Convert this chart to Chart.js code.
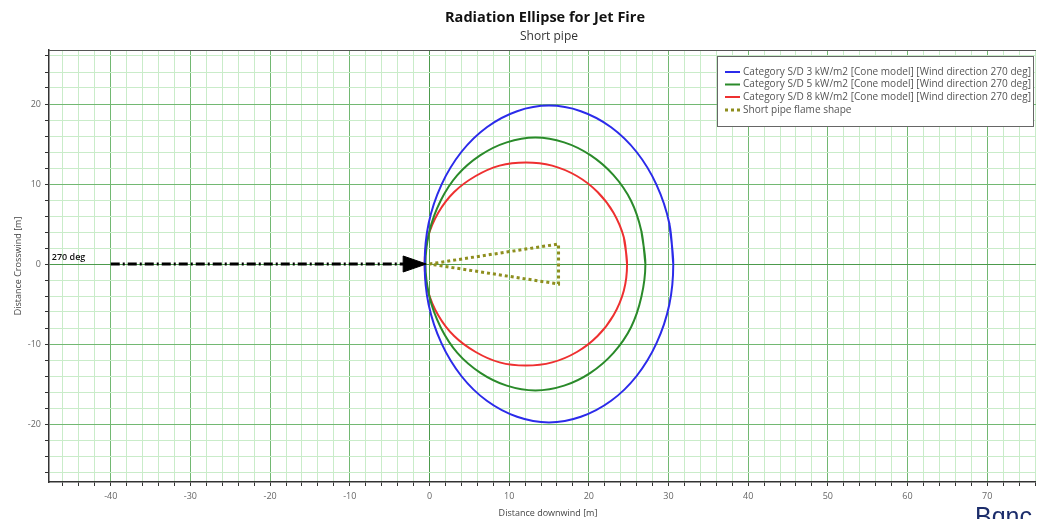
<!DOCTYPE html>
<html>
<head>
<meta charset="utf-8">
<script src="https://cdn.jsdelivr.net/npm/chart.js@4/dist/chart.umd.min.js"></script>
<style>
html,body{margin:0;padding:0;background:#fff;}
#wrap{width:1040px;height:519px;position:relative;}
</style>
</head>
<body>
<div id="wrap"><canvas id="c" width="1040" height="519"></canvas></div>
<script>
// ---- Data ----
const titleText = 'Radiation Ellipse for Jet Fire';
const subtitleText = 'Short pipe';
const xAxisTitle = 'Distance downwind [m]';
const yAxisTitle = 'Distance Crosswind [m]';

const seriesNames = [
  'Category S/D 3 kW/m2 [Cone model] [Wind direction 270 deg]',
  'Category S/D 5 kW/m2 [Cone model] [Wind direction 270 deg]',
  'Category S/D 8 kW/m2 [Cone model] [Wind direction 270 deg]',
  'Short pipe flame shape'
];

// 3 kW/m2 contour (blue)
const blueX = [30.6, 30.1, 28.5, 26.0, 22.8, 19.0, 15.0, 11.0, 7.2, 4.0, 1.5, -0.1, -0.6, -0.1, 1.5, 4.0, 7.2, 11.0, 15.0, 19.0, 22.8, 26.0, 28.5, 30.1, 30.6, 30.1];
const blueY = [0, 5.1, 9.9, 14.0, 17.1, 19.1, 19.8, 19.1, 17.1, 14.0, 9.9, 5.1, 0, -5.1, -9.9, -14.0, -17.1, -19.1, -19.8, -19.1, -17.1, -14.0, -9.9, -5.1, 0, 5.1];
// 5 kW/m2 contour (green)
const greenX = [27.1, 26.6, 25.3, 23.1, 20.2, 16.9, 13.3, 9.7, 6.4, 3.5, 1.4, 0.0, -0.5, 0.0, 1.4, 3.5, 6.4, 9.7, 13.3, 16.9, 20.2, 23.1, 25.3, 26.6, 27.1, 26.6];
const greenY = [0, 4.1, 7.9, 11.1, 13.6, 15.2, 15.8, 15.2, 13.6, 11.1, 7.9, 4.1, 0, -4.1, -7.9, -11.1, -13.6, -15.2, -15.8, -15.2, -13.6, -11.1, -7.9, -4.1, 0, 4.1];
// 8 kW/m2 contour (red)
const redX = [24.8, 24.4, 23.1, 21.1, 18.5, 15.4, 12.1, 8.8, 5.8, 3.1, 1.1, -0.2, -0.6, -0.2, 1.1, 3.1, 5.8, 8.8, 12.1, 15.4, 18.5, 21.1, 23.1, 24.4, 24.8, 24.4];
const redY = [0, 3.3, 6.4, 9.0, 11.0, 12.3, 12.7, 12.3, 11.0, 9.0, 6.4, 3.3, 0, -3.3, -6.4, -9.0, -11.0, -12.3, -12.7, -12.3, -11.0, -9.0, -6.4, -3.3, 0, 3.3];
// Flame shape (olive dotted)
const flameX = [0, 16.2, 16.2, 0];
const flameY = [0, 2.5, -2.5, 0];
// Wind direction arrow
const windX = [-40, -3.0];
const windY = [0, 0];
const arrowHeadX = [-3.3, -0.4, -3.3, -3.3];
const arrowHeadY = [1.0, 0, -1.0, 1.0];
const windLabel = ['270 deg'];
const windLabelX = [-47.4];
const windLabelY = [0.8];

// axes
const xMin = -47.75, xMax = 76.125;
const yMin = -27.25, yMax = 26.75;
const xTickValues = [];
for (let v = -46; v <= 76; v += 2) xTickValues.push(v);
const yTickValues = [];
for (let v = -26; v <= 26; v += 2) yTickValues.push(v);

const watermark = 'Bqnc';

// ---- build ----
const pts = (xs, ys) => xs.map((x, i) => ({x: x, y: ys[i]}));
const FONT = "'Open Sans', 'Noto Sans', sans-serif";

const datasets = [
  {label: 'wind', data: pts(windX, windY), showLine: true, borderColor: '#000', borderWidth: 3,
   borderDash: [9, 3, 2, 3], pointRadius: 0, fill: false, tension: 0},
  {label: 'arrow', data: pts(arrowHeadX, arrowHeadY), showLine: true, borderColor: '#000', borderWidth: 1,
   backgroundColor: '#000', pointRadius: 0, fill: 'shape', tension: 0},
  {label: seriesNames[0], data: pts(blueX, blueY), showLine: true, borderColor: '#2b2bea', borderWidth: 2,
   pointRadius: 0, fill: false, tension: 0.34},
  {label: seriesNames[1], data: pts(greenX, greenY), showLine: true, borderColor: '#2a8a2a', borderWidth: 2,
   pointRadius: 0, fill: false, tension: 0.34},
  {label: seriesNames[2], data: pts(redX, redY), showLine: true, borderColor: '#ee3030', borderWidth: 2,
   pointRadius: 0, fill: false, tension: 0.34},
  {label: seriesNames[3], data: pts(flameX, flameY), showLine: true, borderColor: '#8e8e1e', borderWidth: 3,
   borderDash: [3, 3], borderCapStyle: 'butt', pointRadius: 0, fill: false, tension: 0}
];
const legendOrder = [2, 3, 4, 5];

function gridColor(ctx) {
  const v = ctx.tick ? ctx.tick.value : 0;
  if (v === 0) return '#4c9a4c';
  if (v % 10 === 0) return '#72b872';
  return '#c9ecc9';
}

function fitFont(ctx, text, weight, targetW, base) {
  ctx.font = weight + ' ' + base + 'px ' + FONT;
  const w = ctx.measureText(text).width;
  return base * targetW / w;
}

const decor = {
  id: 'decor',
  afterDraw(chart) {
    const ctx = chart.ctx, ca = chart.chartArea;
    const xs = chart.scales.x, ys = chart.scales.y;
    ctx.save();
    // top border
    ctx.strokeStyle = '#555';
    ctx.lineWidth = 1;
    ctx.beginPath(); ctx.moveTo(ca.left, ca.top + 0.5); ctx.lineTo(ca.right, ca.top + 0.5); ctx.stroke();

    // titles
    ctx.fillStyle = '#111';
    ctx.textAlign = 'center'; ctx.textBaseline = 'middle';
    let fs = fitFont(ctx, titleText, 'bold', 200, 14);
    ctx.font = 'bold ' + fs.toFixed(2) + 'px ' + FONT;
    ctx.fillText(titleText, 545, 18);
    ctx.fillStyle = '#333';
    fs = fitFont(ctx, subtitleText, 'normal', 58, 11);
    ctx.font = fs.toFixed(2) + 'px ' + FONT;
    ctx.fillText(subtitleText, 549, 37);

    // axis titles
    ctx.fillStyle = '#444';
    ctx.font = '9px ' + FONT;
    ctx.fillText(xAxisTitle, 548, 513);
    ctx.save();
    ctx.translate(18, 266);
    ctx.rotate(-Math.PI / 2);
    ctx.fillText(yAxisTitle, 0, 0);
    ctx.restore();

    // wind label
    ctx.fillStyle = '#111';
    ctx.textAlign = 'left';
    ctx.font = '600 9px ' + FONT;
    windLabel.forEach((t, i) => {
      ctx.fillText(t, xs.getPixelForValue(windLabelX[i]), ys.getPixelForValue(windLabelY[i]));
    });

    // legend
    const lx = 717, ly = 56, lw = 316, lh = 70;
    ctx.fillStyle = '#fff';
    ctx.fillRect(lx, ly, lw, lh);
    ctx.strokeStyle = '#666';
    ctx.lineWidth = 1;
    ctx.strokeRect(lx + 0.5, ly + 0.5, lw, lh);
    const rows = [72, 84.5, 97, 110];
    fs = fitFont(ctx, seriesNames[0], 'normal', 288, 10);
    ctx.font = fs.toFixed(2) + 'px ' + FONT;
    ctx.textBaseline = 'middle';
    legendOrder.forEach((di, i) => {
      const ds = chart.data.datasets[di];
      ctx.strokeStyle = ds.borderColor;
      ctx.lineWidth = di === 5 ? 3 : 2;
      ctx.setLineDash(di === 5 ? [3, 3] : []);
      ctx.beginPath(); ctx.moveTo(725, rows[i]); ctx.lineTo(740, rows[i]); ctx.stroke();
      ctx.setLineDash([]);
      ctx.fillStyle = '#555';
      ctx.fillText(ds.label, 743, rows[i]);
    });

    // watermark
    ctx.fillStyle = '#1c2d6b';
    ctx.font = '25px "Liberation Sans", Arial, sans-serif';
    ctx.textBaseline = 'alphabetic';
    ctx.fillText(watermark, 975, 525);
    ctx.restore();
  }
};

new Chart(document.getElementById('c'), {
  type: 'scatter',
  data: {datasets: datasets},
  plugins: [decor],
  options: {
    responsive: false,
    animation: false,
    layout: {padding: {top: 50, left: 0, right: 0, bottom: 0}},
    plugins: {legend: {display: false}, tooltip: {enabled: false}, title: {display: false}},
    scales: {
      x: {
        type: 'linear', min: xMin, max: xMax,
        afterBuildTicks: s => { s.ticks = xTickValues.map(v => ({value: v})); },
        afterFit: s => { s.height = 37; },
        grid: {color: gridColor, lineWidth: 1, tickLength: 4, tickColor: '#333', drawTicks: true},
        border: {display: true, color: '#333', width: 1.5},
        ticks: {autoSkip: false, maxRotation: 0, padding: 5, color: '#666',
          font: {family: FONT, size: 9},
          callback: v => (v % 10 === 0 ? String(v) : '')}
      },
      y: {
        type: 'linear', min: yMin, max: yMax,
        afterBuildTicks: s => { s.ticks = yTickValues.map(v => ({value: v})); },
        afterFit: s => { s.width = 49; },
        grid: {color: gridColor, lineWidth: 1, tickLength: 4, tickColor: '#333', drawTicks: true},
        border: {display: true, color: '#333', width: 1.5},
        ticks: {autoSkip: false, padding: 4, color: '#666',
          font: {family: FONT, size: 9},
          callback: v => (v % 10 === 0 ? String(v) : '')}
      }
    }
  }
});
</script>
</body>
</html>
